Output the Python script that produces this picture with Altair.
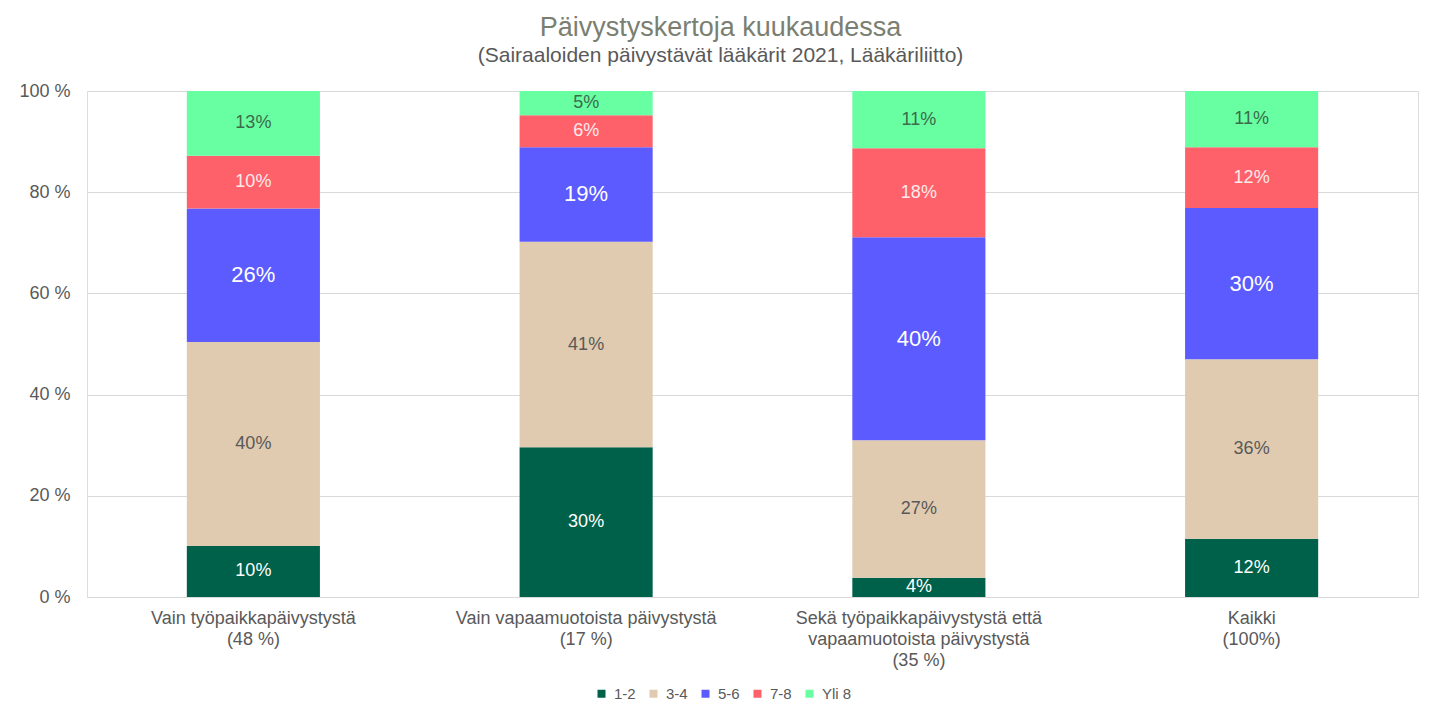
import altair as alt
import pandas as pd

categories = [
    "Vain työpaikkapäivystystä|(48 %)",
    "Vain vapaamuotoista päivystystä|(17 %)",
    "Sekä työpaikkapäivystystä että|vapaamuotoista päivystystä|(35 %)",
    "Kaikki|(100%)",
]
series = ["1-2", "3-4", "5-6", "7-8", "Yli 8"]
v_1_2 = [10.1, 29.6, 3.8, 11.5]
v_3_4 = [40.3, 40.6, 27.2, 35.5]
v_5_6 = [26.4, 18.7, 40.1, 29.9]
v_7_8 = [10.4, 6.3, 17.6, 12.0]
v_yli8 = [12.8, 4.8, 11.3, 11.1]
y_ticks = [0, 20, 40, 60, 80, 100]

colors = ["#00614a", "#e0cbb0", "#5b5bff", "#ff616b", "#68ffa2"]
label_colors = ["#ffffff", "#595959", "#ffffff", "#fdeaea", "#3b6b4b"]
label_sizes = [18, 18, 22, 18, 18]

all_vals = [v_1_2, v_3_4, v_5_6, v_7_8, v_yli8]
rows = []
for si, s in enumerate(series):
    for ci, c in enumerate(categories):
        rows.append({
            "category": c,
            "series": s,
            "idx": si,
            "value": all_vals[si][ci],
            "tcolor": label_colors[si],
            "tsize": label_sizes[si],
        })
df = pd.DataFrame(rows)

FONT = "Liberation Sans"

x_enc = alt.X(
    "category:N",
    sort=categories,
    scale=alt.Scale(paddingInner=0.6, paddingOuter=0.3),
    axis=alt.Axis(
        title=None,
        labelAngle=0,
        labelExpr="split(datum.label, '|')",
        labelFontSize=18,
        labelColor="#595959",
        labelFont=FONT,
        labelLineHeight=21,
        labelPadding=12,
        labelLimit=0,
        ticks=False,
        domain=True,
        domainColor="#d9d9d9",
        grid=False,
        labelBaseline="top",
    ),
)

bars = alt.Chart(df).mark_bar().encode(
    x=x_enc,
    y=alt.Y(
        "value:Q",
        stack="zero",
        scale=alt.Scale(domain=[0, 100], nice=False),
        axis=alt.Axis(
            title=None,
            values=y_ticks,
            labelExpr="datum.value + ' %'",
            labelFontSize=18,
            labelColor="#595959",
            labelFont=FONT,
            labelPadding=17,
            ticks=False,
            domain=False,
            gridColor="#d9d9d9",
        ),
    ),
    color=alt.Color(
        "series:N",
        sort=series,
        scale=alt.Scale(domain=series, range=colors),
        legend=alt.Legend(
            title=None,
            orient="none",
            direction="horizontal",
            legendX=507,
            legendY=595,
            symbolType="square",
            symbolSize=64,
            symbolStrokeWidth=0,
            labelFontSize=15,
            labelFont=FONT,
            labelColor="#595959",
            columnPadding=10,
            labelOffset=5,
        ),
    ),
    order=alt.Order("idx:Q", sort="ascending"),
)

texts = alt.Chart(df).transform_window(
    cum="sum(value)",
    groupby=["category"],
    sort=[alt.SortField("idx", order="ascending")],
    frame=[None, 0],
).transform_calculate(
    mid="datum.cum - datum.value / 2",
    label="format(datum.value / 100, '.0%')",
).mark_text(font=FONT, baseline="middle", align="center").encode(
    x=alt.X("category:N", sort=categories),
    y=alt.Y("mid:Q"),
    text="label:N",
    color=alt.Color("tcolor:N", scale=None),
    size=alt.Size("tsize:Q", scale=None),
)

chart = alt.layer(bars, texts).properties(
    width=1331,
    height=506,
    autosize=alt.AutoSizeParams(type="none"),
    padding={"left": 79, "top": 83, "right": 10, "bottom": 120},
    title=alt.TitleParams(
        text="Päivystyskertoja kuukaudessa",
        subtitle="(Sairaaloiden päivystävät lääkärit 2021, Lääkäriliitto)",
        fontSize=27,
        subtitleFontSize=21,
        font=FONT,
        subtitleFont=FONT,
        color="#7a7f72",
        subtitleColor="#595959",
        fontWeight="normal",
        anchor="middle",
        dx=-32,
        offset=15,
        subtitlePadding=3,
    ),
).configure_view(stroke=None).configure(background="#ffffff")

chart.save("out.html", embed_options={"renderer": "svg", "actions": False})
